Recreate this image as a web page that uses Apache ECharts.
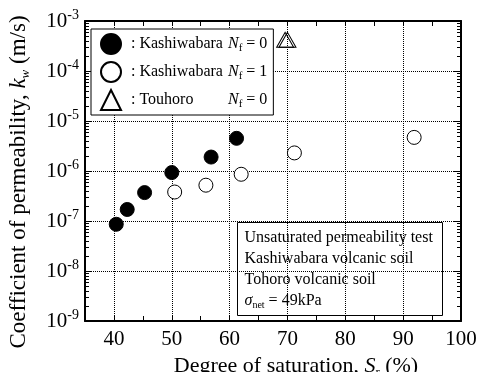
<!DOCTYPE html>
<html>
<head>
<meta charset="utf-8">
<script src="https://cdn.jsdelivr.net/npm/echarts@6/dist/echarts.min.js"></script>
<style>
  html, body { margin: 0; padding: 0; background: #fff; }
  #chart { width: 479px; height: 372px; }
</style>
</head>
<body>
<div id="chart"></div>
<script>
const FONT = 'Liberation Serif';

// Degree of saturation Sr (%) and coefficient of permeability kw (m/s)
const kashiwabaraNf0Sr = [40.4, 42.3, 45.3, 50.0, 56.8, 61.2];
const kashiwabaraNf0Kw = [8.6e-8, 1.7e-7, 3.7e-7, 9.3e-7, 1.9e-6, 4.5e-6];

const kashiwabaraNf1Sr = [50.5, 55.9, 62.0, 71.2, 91.9];
const kashiwabaraNf1Kw = [3.8e-7, 5.2e-7, 8.6e-7, 2.3e-6, 4.7e-6];

const touhoroNf0Sr = [69.6, 70.0];
const touhoroNf0Kw = [4.2e-4, 4.2e-4];

// Axis labelling
const xTickLabels = ['40', '50', '60', '70', '80', '90', '100'];
const yDecades = [-9, -8, -7, -6, -5, -4, -3];
const minorMultipliers = [2, 3, 4, 5, 6, 7, 8, 9];

const legendLabels = {
  'Kashiwabara Nf=0': [': Kashiwabara', '0'],
  'Kashiwabara Nf=1': [': Kashiwabara', '1'],
  'Touhoro Nf=0': [': Touhoro', '0']
};

const zip = (xs, ys) => xs.map((x, i) => [x, ys[i]]);

// log-spaced minor tick positions between the decades
const minorTickValues = [];
yDecades.slice(0, -1).forEach(d => {
  minorMultipliers.forEach(m => minorTickValues.push(m * Math.pow(10, d)));
});

const X_MIN = 35, X_MAX = 100;

const chart = echarts.init(document.getElementById('chart'), null, { renderer: 'canvas' });

const axisLineStyle = { show: true, lineStyle: { color: '#000', width: 2 } };
const gridDots = { color: '#000', type: [1, 1], width: 1 };

const option = {
  backgroundColor: '#fff',
  animation: false,
  textStyle: { fontFamily: FONT, color: '#000' },
  grid: {
    left: 85, right: 18, top: 21, bottom: 51, show: false,
    containLabel: false, outerBoundsMode: 'none'
  },
  xAxis: [
    {
      type: 'value', position: 'bottom', min: X_MIN, max: X_MAX, interval: 5,
      axisLine: axisLineStyle,
      axisTick: { show: true, inside: true, length: 5, lineStyle: { color: '#000', width: 1 } },
      axisLabel: {
        show: true, margin: 8, fontSize: 21, fontFamily: FONT, color: '#000',
        showMinLabel: true, showMaxLabel: true,
        formatter: v => (xTickLabels.includes(String(v)) ? String(v) : '')
      },
      splitLine: {
        show: true,
        lineStyle: { color: ['rgba(0,0,0,0)', '#000'], type: [1, 1], width: 1 }
      },
      name: 'Degree of saturation, {i|S}{sub|r} (%)',
      nameLocation: 'middle', nameGap: 30,
      nameTextStyle: {
        fontFamily: FONT, fontSize: 22, color: '#000', padding: [0, 0, 0, 46],
        rich: {
          i: { fontFamily: FONT, fontSize: 22, fontStyle: 'italic' },
          sub: { fontFamily: FONT, fontSize: 13, padding: [14, 0, 0, 0] }
        }
      }
    },
    {
      type: 'value', position: 'top', min: X_MIN, max: X_MAX, interval: 5,
      axisLine: axisLineStyle,
      axisTick: { show: true, inside: true, length: 5, lineStyle: { color: '#000', width: 1 } },
      axisLabel: { show: false },
      splitLine: { show: false }
    }
  ],
  yAxis: [
    {
      type: 'log', logBase: 10, position: 'left', min: 1e-9, max: 1e-3,
      axisLine: axisLineStyle,
      axisTick: { show: true, inside: true, length: 7, lineStyle: { color: '#000', width: 1 } },
      axisLabel: {
        show: true, margin: 6, showMinLabel: true, showMaxLabel: true,
        formatter: v => {
          const e = Math.round(Math.log10(v));
          return yDecades.includes(e) ? '{b|10}{s|' + e + '}' : '';
        },
        rich: {
          b: { fontFamily: FONT, fontSize: 21, color: '#000' },
          s: { fontFamily: FONT, fontSize: 14, color: '#000', padding: [0, 0, 12, 0] }
        }
      },
      splitLine: { show: true, lineStyle: gridDots },
      name: 'Coefficient of permeability, {i|k}{sub|w} (m/s)',
      nameLocation: 'middle', nameRotate: 90, nameGap: 53,
      nameTextStyle: {
        fontFamily: FONT, fontSize: 23, color: '#000', padding: [0, 22, 0, 0],
        rich: {
          i: { fontFamily: FONT, fontSize: 23, fontStyle: 'italic' },
          sub: { fontFamily: FONT, fontSize: 13, fontStyle: 'italic', padding: [14, 0, 0, 0] }
        }
      }
    },
    {
      type: 'log', logBase: 10, position: 'right', min: 1e-9, max: 1e-3,
      axisLine: axisLineStyle,
      axisTick: { show: true, inside: true, length: 7, lineStyle: { color: '#000', width: 1 } },
      axisLabel: { show: false },
      splitLine: { show: false }
    }
  ],
  legend: {
    data: ['Kashiwabara Nf=0', 'Kashiwabara Nf=1', 'Touhoro Nf=0'],
    orient: 'vertical',
    left: 91, top: 29,
    padding: [4, 6, 4, 9],
    itemWidth: 20, itemHeight: 20, itemGap: 6,
    backgroundColor: '#fff',
    borderColor: '#000', borderWidth: 1,
    selectedMode: false,
    formatter: name => {
      const [lab, nf] = legendLabels[name];
      return '{a|' + lab + '}{n|N}{f|f}{e| = ' + nf + '}';
    },
    textStyle: {
      fontFamily: FONT, fontSize: 16, color: '#000',
      rich: {
        a: { fontFamily: FONT, fontSize: 16, width: 97, padding: [0, 0, 0, 5] },
        n: { fontFamily: FONT, fontSize: 16, fontStyle: 'italic' },
        f: { fontFamily: FONT, fontSize: 11, padding: [9, 0, 0, 0] },
        e: { fontFamily: FONT, fontSize: 16 }
      }
    }
  },
  graphic: [
    {
      type: 'group', left: 237, top: 222, z: 100,
      children: [
        {
          type: 'rect', shape: { x: 0, y: 0, width: 205, height: 93 },
          style: { fill: '#fff', stroke: '#000', lineWidth: 1 }
        },
        {
          type: 'text', x: 7, y: 5,
          style: {
            text: 'Unsaturated permeability test\nKashiwabara volcanic soil\nTohoro volcanic soil\n{g|σ}{sub|net}{t| = 49kPa}',
            font: '16px ' + FONT,
            fill: '#000',
            lineHeight: 21,
            rich: {
              g: { fontFamily: FONT, fontSize: 16, fontStyle: 'italic', fill: '#000' },
              sub: { fontFamily: FONT, fontSize: 10, fill: '#000', padding: [9, 0, 0, 0] },
              t: { fontFamily: FONT, fontSize: 16, fill: '#000' }
            }
          }
        }
      ]
    }
  ],
  series: [
    {
      // log-scale minor ticks on the left and right frame edges
      type: 'custom', silent: true, clip: false, z: 3,
      xAxisIndex: 0, yAxisIndex: 0,
      data: minorTickValues.map(v => [X_MIN, v]),
      renderItem: (params, api) => {
        const cs = params.coordSys;
        const y = Math.round(api.coord([X_MIN, api.value(1)])[1]) + 0.5;
        return {
          type: 'group',
          children: [
            { type: 'line', shape: { x1: cs.x, y1: y, x2: cs.x + 4, y2: y }, style: { stroke: '#000', lineWidth: 1 } },
            { type: 'line', shape: { x1: cs.x + cs.width - 4, y1: y, x2: cs.x + cs.width, y2: y }, style: { stroke: '#000', lineWidth: 1 } }
          ]
        };
      }
    },
    {
      name: 'Kashiwabara Nf=0', type: 'scatter', z: 5,
      data: zip(kashiwabaraNf0Sr, kashiwabaraNf0Kw),
      symbol: 'circle', symbolSize: 14,
      itemStyle: { color: '#000', borderColor: '#000', borderWidth: 1, opacity: 1 }
    },
    {
      name: 'Kashiwabara Nf=1', type: 'scatter', z: 5,
      data: zip(kashiwabaraNf1Sr, kashiwabaraNf1Kw),
      symbol: 'circle', symbolSize: 14,
      itemStyle: { color: '#fff', borderColor: '#000', borderWidth: 1, opacity: 1 }
    },
    {
      name: 'Touhoro Nf=0', type: 'scatter', z: 5,
      data: zip(touhoroNf0Sr, touhoroNf0Kw),
      symbol: 'triangle', symbolSize: [17, 15],
      itemStyle: { color: 'rgba(255,255,255,0)', borderColor: '#000', borderWidth: 1, opacity: 1 }
    }
  ]
};

chart.setOption(option);
</script>
</body>
</html>
